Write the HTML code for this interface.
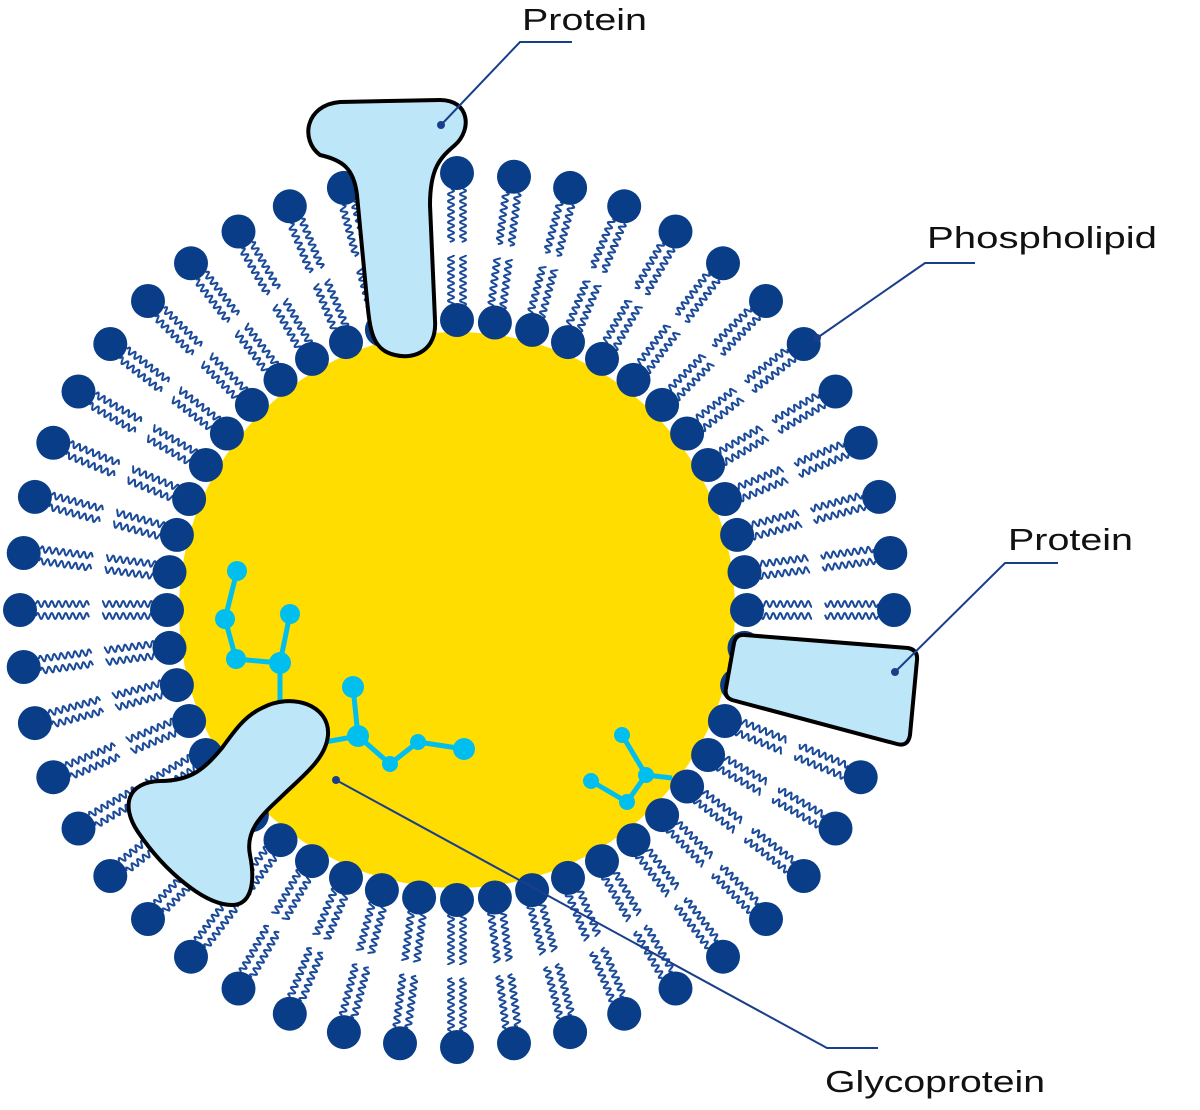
<!DOCTYPE html>
<html><head><meta charset="utf-8"><style>
html,body{margin:0;padding:0;background:#fff;}
svg{display:block;}
text{font-family:"Liberation Sans",sans-serif;font-size:31px;fill:#111;}
</style></head><body>
<svg id="s" width="1200" height="1110" viewBox="0 0 1200 1110" xmlns="http://www.w3.org/2000/svg">
<circle cx="457" cy="610" r="278" fill="#ffdd00"/>
<g id="lip"></g>
<g stroke="#00bfee" stroke-width="5" fill="#00bfee">
<line x1="237" y1="571" x2="225" y2="619"/><line x1="225" y1="619" x2="236" y2="659"/>
<line x1="236" y1="659" x2="280" y2="663"/><line x1="290" y1="614" x2="280" y2="663"/>
<line x1="280" y1="663" x2="280" y2="705"/>
<circle cx="237" cy="571" r="10" stroke="none"/><circle cx="225" cy="619" r="10" stroke="none"/>
<circle cx="290" cy="614" r="10" stroke="none"/><circle cx="236" cy="659" r="10" stroke="none"/>
<circle cx="280" cy="663" r="11" stroke="none"/>
<line x1="353" y1="687" x2="358" y2="736"/><line x1="358" y1="736" x2="390" y2="764"/>
<line x1="390" y1="764" x2="418" y2="742"/><line x1="418" y1="742" x2="464" y2="749"/>
<line x1="358" y1="736" x2="325" y2="742"/>
<circle cx="353" cy="687" r="11" stroke="none"/><circle cx="358" cy="736" r="11" stroke="none"/>
<circle cx="390" cy="764" r="8" stroke="none"/><circle cx="418" cy="742" r="8" stroke="none"/>
<circle cx="464" cy="749" r="11" stroke="none"/>
<line x1="622" y1="735" x2="646" y2="775"/><line x1="646" y1="775" x2="627" y2="802"/>
<line x1="627" y1="802" x2="591" y2="781"/><line x1="646" y1="775" x2="672" y2="778"/>
<circle cx="622" cy="735" r="8" stroke="none"/><circle cx="646" cy="775" r="8" stroke="none"/>
<circle cx="627" cy="802" r="8" stroke="none"/><circle cx="591" cy="781" r="8" stroke="none"/>
</g>
<g fill="#bde6f8" stroke="#000" stroke-width="4" stroke-linejoin="round">
<path d="M320,155 C300,140 305,105 340,102 L440,100 C470,100 472,130 455,145 C440,158 430,168 430,205 L435,320 C437,350 415,360 395,355 C372,350 370,330 367,300 L357,195 C354,168 342,160 320,155 Z"/>
<path d="M745,635 L908,648 Q918,650 917,660 L910,735 Q908,747 897,744 L732,700 Q724,697 726,688 L734,643 Q736,634 745,635 Z"/>
<path d="M262,708 C292,692 330,705 328,735 C326,760 300,778 280,798 C262,815 245,830 250,855 C256,885 250,905 232,905 C205,905 165,872 138,832 C120,805 128,782 160,781 C192,781 205,768 222,748 C235,730 245,716 262,708 Z"/>
</g>
<g stroke="#1a3f8a" stroke-width="2" fill="none">
<polyline points="441,125 520,42 572,42"/>
<polyline points="817,338 925,263 975,263"/>
<polyline points="895,672 1005,563 1058,563"/>
<polyline points="336,780 827,1048 878,1048"/>
</g>
<g fill="#1a3f8a"><circle cx="441" cy="125" r="4"/><circle cx="817" cy="338" r="4"/><circle cx="895" cy="672" r="4"/><circle cx="336" cy="780" r="4"/></g>
<text x="522" y="30" textLength="125" lengthAdjust="spacingAndGlyphs">Protein</text>
<text x="927" y="248" textLength="230" lengthAdjust="spacingAndGlyphs">Phospholipid</text>
<text x="1008" y="550" textLength="125" lengthAdjust="spacingAndGlyphs">Protein</text>
<text x="825" y="1092" textLength="220" lengthAdjust="spacingAndGlyphs">Glycoprotein</text>
</svg>
<script>
(function(){
var g=document.getElementById('lip'),cx=457,cy=610,N=48,out='';
function wave(r1,r2,a,off){
 var ux=Math.cos(a),uy=Math.sin(a),px=-uy,py=ux,d='',n=Math.round(Math.abs(r2-r1)/0.5);
 for(var i=0;i<=n;i++){var t=i*0.5;var r=r1+(r2-r1)*i/n;var w=3*Math.sin(t/7*2*Math.PI)+off;
  var x=cx+ux*r+px*w,y=cy+uy*r+py*w;d+=(i?'L':'M')+x.toFixed(1)+','+y.toFixed(1);}
 return '<path d="'+d+'" stroke="#1a4a99" stroke-width="2" fill="none"/>';}
for(var k=0;k<N;k++){
 var a=-Math.PI/2+k*2*Math.PI/N;
 out+=wave(421,368,a,-6)+wave(421,368,a,6)+wave(304,355,a,-6)+wave(304,355,a,6);
 out+='<circle cx="'+(cx+437*Math.cos(a)).toFixed(1)+'" cy="'+(cy+437*Math.sin(a)).toFixed(1)+'" r="17" fill="#0a3d87"/>';
 out+='<circle cx="'+(cx+290*Math.cos(a)).toFixed(1)+'" cy="'+(cy+290*Math.sin(a)).toFixed(1)+'" r="17" fill="#0a3d87"/>';
}
g.innerHTML=out;
})();
</script>
</body></html>
